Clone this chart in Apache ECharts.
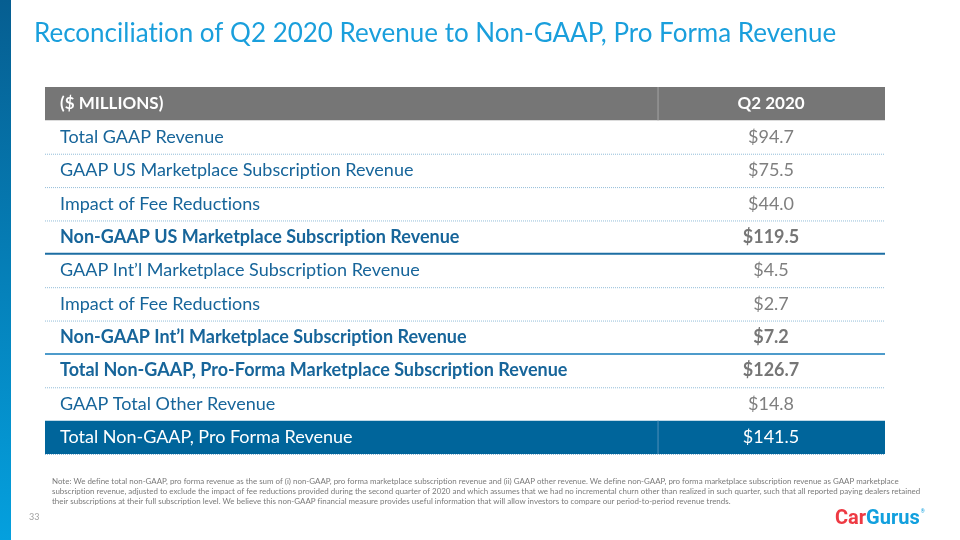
<!DOCTYPE html>
<html><head><meta charset="utf-8">
<script src="https://cdn.jsdelivr.net/npm/echarts@6/dist/echarts.min.js"></script>
<style>html,body{margin:0;padding:0;background:#fff}#c{width:960px;height:540px}</style>
</head><body><div id="c"></div>
<script>
// ---- data ----
const titleText = 'Reconciliation of Q2 2020 Revenue to Non-GAAP, Pro Forma Revenue';
const headerLabels = ['($ MILLIONS)', 'Q2 2020'];
const rowLabels = [
  'Total GAAP Revenue',
  'GAAP US Marketplace Subscription Revenue',
  'Impact of Fee Reductions',
  'Non-GAAP US Marketplace Subscription Revenue',
  'GAAP Int\u2019l Marketplace Subscription Revenue',
  'Impact of Fee Reductions',
  'Non-GAAP Int\u2019l Marketplace Subscription Revenue',
  'Total Non-GAAP, Pro-Forma Marketplace Subscription Revenue',
  'GAAP Total Other Revenue',
  'Total Non-GAAP, Pro Forma Revenue'
];
const q2Values = [94.7, 75.5, 44.0, 119.5, 4.5, 2.7, 7.2, 126.7, 14.8, 141.5];
const subtotalRows = [3, 6, 7];      // bold rows
const sectionEndRows = [3, 6];       // rows followed by a solid rule
const grandTotalRow = 9;             // highlighted row
const noteLines = [
  'Note: We define total non-GAAP, pro forma revenue as the sum of (i) non-GAAP, pro forma marketplace subscription revenue and (ii) GAAP other revenue. We define non-GAAP, pro forma marketplace subscription revenue as GAAP marketplace',
  'subscription revenue, adjusted to exclude the impact of fee reductions provided during the second quarter of 2020 and which assumes that we had no incremental churn other than realized in such quarter, such that all reported paying dealers retained',
  'their subscriptions at their full subscription level. We believe this non-GAAP financial measure provides useful information that will allow investors to compare our period-to-period revenue trends.'
];
const pageNumber = '33';

// ---- build ----
const categories = ['header'].concat(rowLabels);
const FONT = 'Lato, "Open Sans", sans-serif';
const COL_SPLIT = 0.7298;
const VAL_CENTER = 0.8643;
const LABEL_COLOR = '#17659a';
const VALUE_COLOR = '#7f7f7f';
// avoid Lato's ligatures (ti, fi, fl) for display
const noLig = s => s.replace(/([ft])(?=[iflt])/g, '$1\u200C');

function renderItem(params, api) {
  const i = params.dataIndex;
  const left = api.coord([0, i]);
  const right = api.coord([1, i]);
  const h = api.size([0, 1])[1];
  const cy = left[1];
  const top = cy - h / 2, bottom = cy + h / 2;
  const x0 = left[0], x1 = right[0];
  const xs = api.coord([COL_SPLIT, i])[0];
  const xv = api.coord([VAL_CENTER, i])[0];
  const children = [];
  if (i === 0) {
    children.push({type: 'rect', shape: {x: x0, y: top, width: x1 - x0, height: h}, style: {fill: '#767676'}});
    children.push({type: 'line', shape: {x1: xs, y1: top, x2: xs, y2: bottom}, style: {stroke: '#a3a3a3', lineWidth: 1}});
    children.push({type: 'text', style: {text: headerLabels[0], x: x0 + 15, y: cy, verticalAlign: 'middle', align: 'left', fill: '#fff', font: 'bold 17px ' + FONT}});
    children.push({type: 'text', style: {text: headerLabels[1], x: xv, y: cy, verticalAlign: 'middle', align: 'center', fill: '#fff', font: 'bold 17px ' + FONT}});
    return {type: 'group', children};
  }
  const r = i - 1;
  const label = noLig(rowLabels[r]);
  const val = '$' + q2Values[r].toFixed(1);
  if (r === grandTotalRow) {
    children.push({type: 'rect', shape: {x: x0, y: top, width: x1 - x0, height: h}, style: {fill: '#00659b'}});
    children.push({type: 'line', shape: {x1: xs, y1: top, x2: xs, y2: bottom}, style: {stroke: '#4f8fba', lineWidth: 1}});
    children.push({type: 'text', style: {text: label, x: x0 + 15, y: cy, verticalAlign: 'middle', fill: '#fff', font: '18px ' + FONT}});
    children.push({type: 'text', style: {text: val, x: xv, y: cy, verticalAlign: 'middle', align: 'center', fill: '#fff', font: '18px ' + FONT}});
    children.push({type: 'line', shape: {x1: x0, y1: bottom + 0.5, x2: x1, y2: bottom + 0.5}, style: {stroke: '#93bdd9', lineWidth: 1, lineDash: [1, 1]}});
    return {type: 'group', children};
  }
  const bold = subtotalRows.indexOf(r) >= 0;
  children.push({type: 'text', style: {text: label, x: x0 + 15, y: cy, verticalAlign: 'middle', fill: LABEL_COLOR, font: (bold ? 'bold ' : '') + '18px ' + FONT}});
  children.push({type: 'text', style: {text: val, x: xv, y: cy, verticalAlign: 'middle', align: 'center', fill: bold ? '#767676' : VALUE_COLOR, font: (bold ? 'bold ' : '') + '18px ' + FONT}});
  if (sectionEndRows.indexOf(r) >= 0) {
    const col = r === sectionEndRows[0] ? '#1c6ea3' : '#4d9bcb';
    children.push({type: 'line', shape: {x1: x0, y1: bottom, x2: x1, y2: bottom}, style: {stroke: col, lineWidth: 2}});
  } else if (r + 1 !== grandTotalRow) {
    children.push({type: 'line', shape: {x1: x0, y1: bottom + 0.5, x2: x1, y2: bottom + 0.5}, style: {stroke: '#93bdd9', lineWidth: 1, lineDash: [1, 1]}});
  }
  return {type: 'group', children};
}

const chart = echarts.init(document.getElementById('c'), null, {renderer: 'canvas'});
chart.setOption({
  animation: false,
  backgroundColor: '#fff',
  title: {
    text: noLig(titleText), left: 29, top: 16,
    textStyle: {fontFamily: FONT, fontSize: 26, fontWeight: 'normal', color: '#1a9fdc'}
  },
  grid: {left: 45, right: 75, top: 87, bottom: 86},
  xAxis: {type: 'value', min: 0, max: 1, show: false},
  yAxis: {type: 'category', data: categories, inverse: true, show: false},
  series: [{
    type: 'custom',
    renderItem: renderItem,
    data: categories.map((c, i) => [0, i]),
    encode: {x: 0, y: 1}
  }],
  graphic: [
    {type: 'rect', left: 0, top: 0, shape: {width: 11, height: 540}, z: 10,
     style: {fill: new echarts.graphic.LinearGradient(0, 0, 0, 1, [{offset: 0, color: '#065e91'}, {offset: 1, color: '#04a0de'}])}},
    {type: 'text', left: 52, top: 476, z: 10,
     style: {text: noteLines.map(noLig).join('\n'), font: '7.95px ' + FONT, fill: '#7a7a7a', lineHeight: 10}},
    {type: 'text', left: 29, top: 513, z: 10,
     style: {text: pageNumber, font: '9px ' + FONT, fill: '#a0a0a0'}},
    {type: 'text', left: 835, top: 509, z: 10,
     style: {text: '{a|Car}{b|Gurus}{r|\u00AE}', rich: {
       a: {fontWeight: 'bold', fontSize: 20, fontFamily: 'Roboto', fill: '#ee3a43'},
       b: {fontWeight: 'bold', fontSize: 20, fontFamily: 'Roboto', fill: '#12a0de'},
       r: {fontSize: 5, fontFamily: 'Roboto', fill: '#12a0de', verticalAlign: 'top', padding: [0, 0, 10, 1]}
     }}}
  ]
});
</script>
</body></html>
